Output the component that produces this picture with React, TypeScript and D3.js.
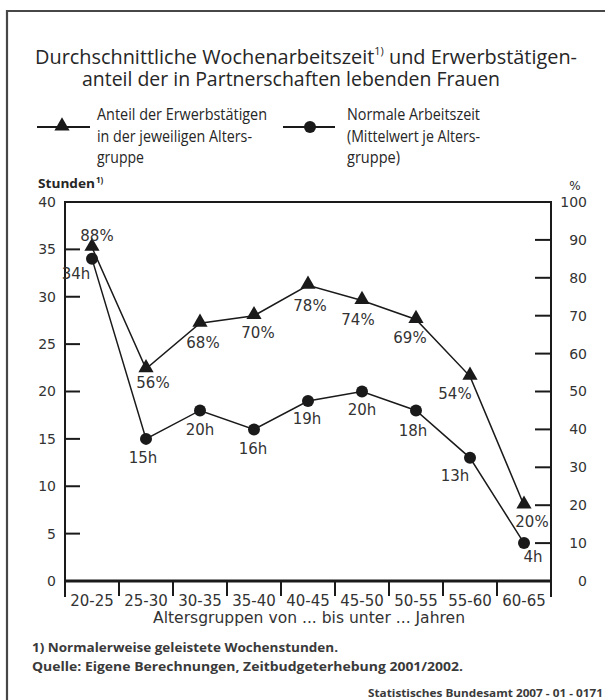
import React from 'react';
import * as d3 from 'd3';

// age groups and the two series
const categories = ['20-25', '25-30', '30-35', '35-40', '40-45', '45-50', '50-55', '55-60', '60-65'];
const shareValues = [88, 56, 68, 70, 78, 74, 69, 54, 20];
const shareLabels = ['88%', '56%', '68%', '70%', '78%', '74%', '69%', '54%', '20%'];
const hourValues = [34, 15, 18, 16, 19, 20, 18, 13, 4];
const hourLabels = ['34h', '15h', '20h', '16h', '19h', '20h', '18h', '13h', '4h'];
const hourTicks = [0, 5, 10, 15, 20, 25, 30, 35, 40];
const shareTicks = [0, 10, 20, 30, 40, 50, 60, 70, 80, 90, 100];

// label placement relative to each point (layout only)
const shareLabelOffset = [[5, -12], [7, 14], [3, 19], [4, 17], [2, 20], [-4, 19], [-6, 18], [-15, 17], [8, 17]];
const hourLabelOffset = [[-16, 15], [-3, 19], [0, 19], [-1, 19], [-1, 18], [0, 18], [-3, 20], [-15, 18], [9, 14]];

const W = 605;
const H = 700;
const left = 65;
const right = 551;
const top = 202;
const bottom = 581;
const ink = '#1a1a1a';
const txt = '#262626';
const sans = 'Open Sans, sans-serif';
const dejavu = 'DejaVu Sans, sans-serif';

const App = () => {
   const x = d3.scaleBand().domain(categories).range([left, right]);
   const yH = d3.scaleLinear().domain([0, 40]).range([bottom, top]);
   const yP = d3.scaleLinear().domain([0, 100]).range([bottom, top]);
   const cx = (i) => x(categories[i]) + x.bandwidth() / 2;

   const shareLine = d3.line().x((d, i) => cx(i)).y(d => yP(d));
   const hourLine = d3.line().x((d, i) => cx(i)).y(d => yH(d));
   const tri = d3.symbol().type(d3.symbolTriangle).size(100)();
   const bounds = categories.map(c => x(c)).concat([right]);

   return (
      <svg width={W} height={H} style={{ position: 'absolute', left: 0, top: 0 }}>
         <rect width={W} height={H} fill="#fff" />
         {/* frame */}
         <path d={`M7,${H} V11 H${W}`} fill="none" stroke="#474747" strokeWidth={2.2} />

         {/* title */}
         <text x={35} y={64} fontFamily={sans} fontSize={20} fontWeight={500} fill={txt} textLength={542} lengthAdjust="spacingAndGlyphs">
            <tspan>Durchschnittliche Wochenarbeitszeit</tspan>
            <tspan fontSize={11} dy={-9}>1)</tspan>
            <tspan dy={9}> und Erwerbstätigen-</tspan>
         </text>
         <text x={82} y={86} fontFamily={sans} fontSize={20} fontWeight={500} fill={txt} textLength={418} lengthAdjust="spacingAndGlyphs">
            anteil der in Partnerschaften lebenden Frauen
         </text>

         {/* legend */}
         <line x1={37} x2={90} y1={127} y2={127} stroke={ink} strokeWidth={2} />
         <path d={tri} transform="translate(62,126)" fill={ink} />
         <text fontFamily={sans} fontSize={16} fill={txt}>
            <tspan x={97} y={120} textLength={170} lengthAdjust="spacingAndGlyphs">Anteil der Erwerbstätigen</tspan>
            <tspan x={97} y={142} textLength={155} lengthAdjust="spacingAndGlyphs">in der jeweiligen Alters-</tspan>
            <tspan x={97} y={163} textLength={47} lengthAdjust="spacingAndGlyphs">gruppe</tspan>
         </text>
         <line x1={283} x2={335} y1={127} y2={127} stroke={ink} strokeWidth={2} />
         <circle cx={310} cy={127} r={6} fill={ink} />
         <text fontFamily={sans} fontSize={16} fill={txt}>
            <tspan x={347} y={120} textLength={133} lengthAdjust="spacingAndGlyphs">Normale Arbeitszeit</tspan>
            <tspan x={347} y={142} textLength={133} lengthAdjust="spacingAndGlyphs">(Mittelwert je Alters-</tspan>
            <tspan x={347} y={163} textLength={53} lengthAdjust="spacingAndGlyphs">gruppe)</tspan>
         </text>

         {/* axis titles */}
         <text x={38} y={188} fontFamily={sans} fontSize={12} fontWeight="bold" fill={txt} textLength={57} lengthAdjust="spacingAndGlyphs">Stunden</text>
         <text x={96} y={183} fontFamily={sans} fontSize={8} fontWeight="bold" fill={txt}>1)</text>
         <text x={575} y={190} fontFamily={dejavu} fontSize={12} fill={txt} textAnchor="middle">%</text>

         {/* frame of plot */}
         <line x1={left} x2={right} y1={top} y2={top} stroke={ink} strokeWidth={2} />
         <line x1={left} x2={left} y1={top - 1} y2={597} stroke={ink} strokeWidth={2} />
         <line x1={right} x2={right} y1={top - 1} y2={597} stroke={ink} strokeWidth={2} />
         <line x1={left} x2={right} y1={bottom} y2={bottom} stroke={ink} strokeWidth={3} />

         {/* left ticks */}
         {hourTicks.map(t => (
            <g key={'h' + t}>
               {t > 0 && t < 40 && <line x1={left} x2={left + 15} y1={yH(t)} y2={yH(t)} stroke={ink} strokeWidth={2} />}
               <text x={56} y={yH(t)} dy="0.35em" textAnchor="end" fontFamily={dejavu} fontSize={14} fill="#333">{t}</text>
            </g>
         ))}

         {/* right ticks */}
         {shareTicks.map(t => (
            <g key={'p' + t}>
               {t > 0 && t < 100 && <line x1={right - 16} x2={right} y1={yP(t)} y2={yP(t)} stroke={ink} strokeWidth={2} />}
               <text x={587} y={yP(t)} dy="0.35em" textAnchor="end" fontFamily={dejavu} fontSize={14} fill="#333">{t}</text>
            </g>
         ))}

         {/* category separators and labels */}
         {bounds.map((b, i) => (
            <line key={'b' + i} x1={b} x2={b} y1={bottom} y2={596} stroke={ink} strokeWidth={2} />
         ))}
         {categories.map((c, i) => (
            <text key={c} x={cx(i)} y={606} textAnchor="middle" fontFamily={dejavu} fontSize={15} fill="#333">{c}</text>
         ))}
         <text x={309} y={623} textAnchor="middle" fontFamily={dejavu} fontSize={15} fill="#333" textLength={312} lengthAdjust="spacingAndGlyphs">
            Altersgruppen von ... bis unter ... Jahren
         </text>

         {/* series */}
         <path d={shareLine(shareValues)} fill="none" stroke={ink} strokeWidth={1.5} />
         <path d={hourLine(hourValues)} fill="none" stroke={ink} strokeWidth={1.5} />
         {shareValues.map((v, i) => (
            <path key={'t' + i} d={tri} transform={`translate(${cx(i)},${yP(v) - 1})`} fill={ink} />
         ))}
         {hourValues.map((v, i) => (
            <circle key={'c' + i} cx={cx(i)} cy={yH(v)} r={6} fill={ink} />
         ))}

         {/* value labels */}
         {shareValues.map((v, i) => (
            <text key={'sl' + i} x={cx(i) + shareLabelOffset[i][0]} y={yP(v) + shareLabelOffset[i][1]} dy="0.35em"
               textAnchor="middle" fontFamily={dejavu} fontSize={15} fill="#333">{shareLabels[i]}</text>
         ))}
         {hourValues.map((v, i) => (
            <text key={'hl' + i} x={cx(i) + hourLabelOffset[i][0]} y={yH(v) + hourLabelOffset[i][1]} dy="0.35em"
               textAnchor="middle" fontFamily={dejavu} fontSize={15} fill="#333">{hourLabels[i]}</text>
         ))}

         {/* footnotes */}
         <text x={32} y={652} fontFamily={sans} fontSize={13} fontWeight="bold" fill="#3a3a3a" textLength={306} lengthAdjust="spacingAndGlyphs">
            1) Normalerweise geleistete Wochenstunden.
         </text>
         <text x={32} y={671} fontFamily={sans} fontSize={13} fontWeight="bold" fill="#3a3a3a" textLength={431} lengthAdjust="spacingAndGlyphs">
            Quelle: Eigene Berechnungen, Zeitbudgeterhebung 2001/2002.
         </text>
         <text x={603} y={697} textAnchor="end" fontFamily={sans} fontSize={10} fontWeight="bold" fill="#3a3a3a" textLength={235} lengthAdjust="spacingAndGlyphs">
            Statistisches Bundesamt 2007 - 01 - 0171
         </text>
      </svg>
   );
};

export default App;
